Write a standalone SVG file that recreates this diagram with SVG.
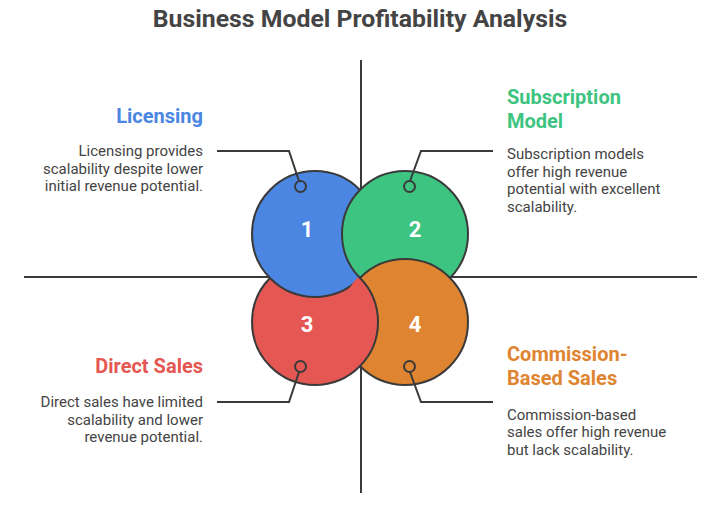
<svg xmlns="http://www.w3.org/2000/svg" width="721" height="517" viewBox="0 0 721 517">
<style>
text{font-family:Roboto,"Liberation Sans",sans-serif}
.title{font-size:24.8px;font-weight:700;fill:#444}
.head{font-size:20px;font-weight:700}
.body{font-size:15px;fill:#444}
.num{font-size:22px;font-weight:700;fill:#fff;text-anchor:middle}
.axis{stroke:#3a3a3a;stroke-width:2;fill:none}
.conn{stroke:#3a3a3a;stroke-width:2;fill:none}
.big{stroke:#3a3a3a;stroke-width:2}
.dot{stroke:#3a3a3a;stroke-width:2;fill:none}
.r{text-anchor:end}
</style>
<defs>
<clipPath id="orangeClip"><circle cx="405" cy="322" r="65"/></clipPath>
</defs>
<text class="title" x="360" y="27" text-anchor="middle">Business Model Profitability Analysis</text>
<g id="axes">
<line class="axis" x1="361" y1="60" x2="361" y2="493"/>
<line class="axis" x1="24" y1="277" x2="697" y2="277"/>
</g>
<g id="node-3">
<circle class="big" cx="315" cy="322" r="63" fill="#E55753"/>
</g>
<g id="node-1">
<circle class="big" cx="315" cy="234" r="63" fill="#4A86E2"/>
</g>
<g id="node-2">
<circle class="big" cx="405" cy="234" r="63" fill="#3CC480"/>
</g>
<g id="node-4">
<circle class="big" cx="405" cy="322" r="63" fill="#DF8430"/>
</g>
<g id="node-3-overlap" clip-path="url(#orangeClip)">
<circle class="big" cx="315" cy="322" r="63" fill="#E55753"/>
</g>
<g id="numbers">
<text class="num" x="307" y="237">1</text>
<text class="num" x="415" y="237">2</text>
<text class="num" x="307" y="332">3</text>
<text class="num" x="415" y="332">4</text>
</g>
<g id="connectors">
<polyline class="conn" points="217,151 289,151 299,181"/>
<circle class="dot" cx="300.5" cy="186.5" r="5.5"/>
<polyline class="conn" points="493,151 421,151 410,181"/>
<circle class="dot" cx="409.5" cy="186.5" r="5.5"/>
<polyline class="conn" points="217,402 289,402 299,372"/>
<circle class="dot" cx="300.5" cy="366.5" r="5.5"/>
<polyline class="conn" points="493,402 421,402 410,372"/>
<circle class="dot" cx="409.5" cy="366.5" r="5.5"/>
</g>
<g id="label-licensing">
<text class="head r" x="203" y="123" fill="#4A86E2">Licensing</text>
<text class="body r" x="203" y="156">Licensing provides</text>
<text class="body r" x="203" y="173.5">scalability despite lower</text>
<text class="body r" x="203" y="191">initial revenue potential.</text>
</g>
<g id="label-subscription">
<text class="head" x="507" y="104" fill="#3CC480">Subscription</text>
<text class="head" x="507" y="128" fill="#3CC480">Model</text>
<text class="body" x="507" y="159">Subscription models</text>
<text class="body" x="507" y="176.5">offer high revenue</text>
<text class="body" x="507" y="194">potential with excellent</text>
<text class="body" x="507" y="212">scalability.</text>
</g>
<g id="label-direct">
<text class="head r" x="203" y="373" fill="#E55753">Direct Sales</text>
<text class="body r" x="203" y="407">Direct sales have limited</text>
<text class="body r" x="203" y="424.5">scalability and lower</text>
<text class="body r" x="203" y="442">revenue potential.</text>
</g>
<g id="label-commission">
<text class="head" x="507" y="361" fill="#DF8430">Commission-</text>
<text class="head" x="507" y="385" fill="#DF8430">Based Sales</text>
<text class="body" x="507" y="419.5">Commission-based</text>
<text class="body" x="507" y="437">sales offer high revenue</text>
<text class="body" x="507" y="454.5">but lack scalability.</text>
</g>
</svg>
